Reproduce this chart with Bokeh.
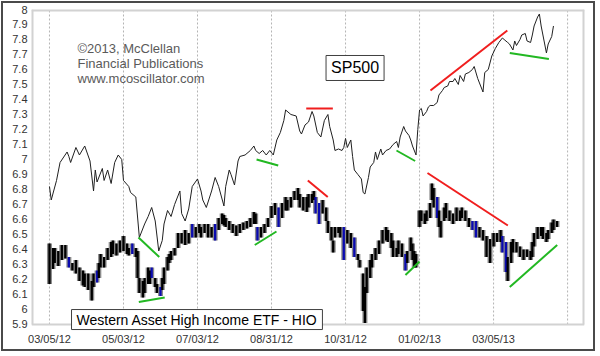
from bokeh.plotting import figure
from bokeh.models import FixedTicker, Label, ColumnDataSource, Range1d
from bokeh.embed import file_html
from bokeh.resources import INLINE

# x axis: trading-day index counted from 03/05/12
date_ticks = [0, 42, 84, 126, 168, 210, 252, 294]
date_labels = ["03/05/12", "05/03/12", "07/03/12", "08/31/12",
               "10/31/12", "01/02/13", "03/05/13", ""]
y_ticks = [5.9, 6.0, 6.1, 6.2, 6.3, 6.4, 6.5, 6.6, 6.7, 6.8, 6.9,
           7.0, 7.1, 7.2, 7.3, 7.4, 7.5, 7.6, 7.7, 7.8, 7.9, 8.0]
y_labels = ["5.9", "6", "6.1", "6.2", "6.3", "6.4", "6.5", "6.6", "6.7", "6.8", "6.9",
            "7", "7.1", "7.2", "7.3", "7.4", "7.5", "7.6", "7.7", "7.8", "7.9", "8"]

# SP500 overlay (drawn on the chart's own scale)
sp_day = [0, 1, 4, 6, 10, 11, 12, 15, 17, 18,
          20, 23, 25, 26, 27, 30, 31, 33, 35, 37,
          39, 41, 42, 45, 46, 49, 51, 54, 56, 58,
          60, 62, 64, 65, 67, 69, 71, 74, 75, 77,
          79, 81, 84, 86, 87, 89, 92, 94, 96, 99,
          100, 102, 103, 105, 107, 108, 111, 114, 116, 117,
          119, 121, 123, 125, 127, 129, 131, 133, 134, 137,
          140, 142, 143, 145, 147, 149, 150, 152, 154, 156,
          158, 159, 161, 162, 164, 166, 167, 168, 169, 171,
          172, 173, 175, 177, 178, 179, 181, 182, 184, 185,
          186, 188, 189, 191, 193, 195, 197, 198, 199, 201,
          202, 204, 205, 206, 208, 209, 210, 211, 212, 214,
          215, 216, 218, 220, 221, 223, 224, 226, 227, 229,
          230, 232, 233, 235, 236, 238, 240, 241, 243, 244,
          246, 247, 249, 251, 253, 255, 257, 258, 260, 261,
          263, 264, 265, 267, 268, 270, 271, 273, 274, 275,
          277, 278, 279, 281, 282, 283, 285, 286]
sp_val = [6.82, 6.73, 6.86, 6.98, 7.05, 7.02, 6.98, 7.08, 7.03, 7.05,
          7.09, 6.99, 6.79, 6.93, 6.85, 6.94, 6.86, 6.93, 6.84, 6.98,
          7.03, 7.00, 6.86, 6.82, 6.78, 6.75, 6.48, 6.57, 6.62, 6.68,
          6.59, 6.39, 6.46, 6.57, 6.66, 6.62, 6.70, 6.79, 6.64, 6.59,
          6.67, 6.82, 6.87, 6.79, 6.73, 6.68, 6.79, 6.88, 6.82, 6.69,
          6.82, 6.93, 6.90, 6.83, 6.99, 7.02, 7.03, 7.06, 7.09, 7.06,
          7.04, 7.06, 7.03, 7.06, 7.03, 7.13, 7.18, 7.26, 7.33, 7.30,
          7.29, 7.19, 7.17, 7.23, 7.25, 7.32, 7.29, 7.18, 7.15, 7.26,
          7.30, 7.22, 7.13, 7.06, 7.07, 7.06, 7.08, 7.14, 7.08, 7.13,
          7.02, 6.93, 6.90, 6.87, 6.78, 6.77, 6.88, 6.95, 6.98, 7.05,
          7.00, 7.07, 7.03, 7.06, 7.07, 7.10, 7.12, 7.08, 7.15, 7.22,
          7.19, 7.16, 7.13, 7.09, 7.03, 7.20, 7.33, 7.34, 7.29, 7.32,
          7.35, 7.36, 7.36, 7.38, 7.43, 7.46, 7.48, 7.49, 7.52, 7.52,
          7.54, 7.50, 7.56, 7.52, 7.57, 7.58, 7.60, 7.62, 7.54, 7.51,
          7.45, 7.58, 7.60, 7.69, 7.74, 7.78, 7.81, 7.80, 7.78, 7.77,
          7.73, 7.79, 7.76, 7.80, 7.83, 7.84, 7.79, 7.78, 7.83, 7.89,
          7.95, 7.97, 7.89, 7.77, 7.71, 7.77, 7.82, 7.89]

# HIO daily bars (high / low)
hio_day = [0, 2, 3, 5, 7, 9, 11, 13, 15, 17,
           19, 20, 22, 24, 25, 27, 28, 29, 31, 33,
           35, 36, 38, 40, 42, 44, 45, 47, 49, 50,
           51, 53, 54, 56, 57, 58, 60, 61, 63, 64,
           65, 67, 68, 69, 71, 73, 75, 77, 79, 81,
           83, 85, 86, 88, 90, 92, 94, 96, 98, 99,
           100, 102, 104, 106, 108, 110, 112, 114, 116, 117,
           118, 120, 122, 124, 126, 128, 130, 132, 134, 135,
           137, 139, 141, 142, 144, 146, 147, 149, 150, 151,
           153, 155, 157, 158, 160, 161, 162, 164, 165, 167,
           169, 171, 173, 175, 176, 178, 179, 180, 182, 183,
           185, 187, 189, 191, 192, 194, 195, 197, 198, 200,
           202, 203, 205, 206, 207, 208, 210, 211, 213, 214,
           216, 217, 218, 220, 221, 222, 224, 225, 227, 229,
           231, 233, 234, 236, 238, 240, 242, 244, 246, 248,
           250, 252, 254, 256, 257, 259, 260, 262, 263, 265,
           267, 269, 271, 273, 274, 275, 277, 279, 280, 282,
           283, 285, 286, 288]
hio_high = [6.44, 6.41, 6.41, 6.39, 6.43, 6.43, 6.35, 6.31, 6.33, 6.28,
            6.26, 6.24, 6.24, 6.19, 6.24, 6.26, 6.31, 6.37, 6.35, 6.41,
            6.45, 6.46, 6.44, 6.46, 6.49, 6.44, 6.41, 6.44, 6.41, 6.39,
            6.21, 6.19, 6.21, 6.28, 6.26, 6.28, 6.21, 6.17, 6.15, 6.21,
            6.28, 6.35, 6.37, 6.39, 6.41, 6.51, 6.51, 6.53, 6.51, 6.57,
            6.55, 6.57, 6.55, 6.57, 6.57, 6.55, 6.57, 6.61, 6.64, 6.63,
            6.61, 6.59, 6.57, 6.56, 6.57, 6.58, 6.59, 6.61, 6.65, 6.64,
            6.55, 6.55, 6.57, 6.61, 6.69, 6.71, 6.68, 6.71, 6.75, 6.73,
            6.75, 6.79, 6.81, 6.77, 6.75, 6.75, 6.77, 6.77, 6.79, 6.75,
            6.71, 6.73, 6.68, 6.59, 6.55, 6.46, 6.55, 6.55, 6.55, 6.55,
            6.53, 6.51, 6.48, 6.37, 6.33, 6.24, 6.15, 6.28, 6.33, 6.37,
            6.41, 6.46, 6.53, 6.55, 6.53, 6.51, 6.46, 6.41, 6.46, 6.44,
            6.37, 6.39, 6.48, 6.44, 6.39, 6.37, 6.66, 6.66, 6.64, 6.66,
            6.71, 6.84, 6.81, 6.75, 6.66, 6.59, 6.68, 6.71, 6.66, 6.64,
            6.68, 6.66, 6.68, 6.66, 6.61, 6.59, 6.59, 6.55, 6.53, 6.49,
            6.47, 6.51, 6.51, 6.53, 6.49, 6.45, 6.35, 6.45, 6.47, 6.45,
            6.42, 6.40, 6.40, 6.39, 6.45, 6.51, 6.55, 6.55, 6.55, 6.51,
            6.53, 6.58, 6.60, 6.59]
hio_low = [6.17, 6.27, 6.31, 6.29, 6.33, 6.34, 6.28, 6.26, 6.24, 6.19,
           6.16, 6.15, 6.13, 6.06, 6.15, 6.18, 6.21, 6.28, 6.28, 6.33,
           6.35, 6.37, 6.36, 6.38, 6.39, 6.37, 6.36, 6.37, 6.35, 6.21,
           6.11, 6.08, 6.11, 6.17, 6.17, 6.21, 6.15, 6.11, 6.09, 6.13,
           6.17, 6.26, 6.31, 6.33, 6.36, 6.41, 6.44, 6.43, 6.44, 6.48,
           6.48, 6.51, 6.48, 6.51, 6.48, 6.48, 6.46, 6.53, 6.57, 6.56,
           6.55, 6.53, 6.51, 6.49, 6.51, 6.53, 6.54, 6.55, 6.57, 6.57,
           6.46, 6.48, 6.51, 6.55, 6.61, 6.63, 6.55, 6.61, 6.66, 6.66,
           6.68, 6.73, 6.73, 6.68, 6.66, 6.65, 6.68, 6.71, 6.73, 6.64,
           6.57, 6.64, 6.59, 6.51, 6.46, 6.38, 6.48, 6.51, 6.48, 6.33,
           6.44, 6.41, 6.35, 6.33, 6.28, 5.99, 5.91, 6.11, 6.21, 6.28,
           6.33, 6.37, 6.44, 6.46, 6.45, 6.41, 6.35, 6.35, 6.37, 6.35,
           6.26, 6.31, 6.39, 6.33, 6.28, 6.28, 6.55, 6.59, 6.57, 6.59,
           6.61, 6.73, 6.68, 6.61, 6.55, 6.48, 6.59, 6.61, 6.59, 6.57,
           6.59, 6.59, 6.61, 6.59, 6.55, 6.53, 6.48, 6.48, 6.46, 6.35,
           6.31, 6.42, 6.45, 6.45, 6.38, 6.25, 6.19, 6.31, 6.38, 6.38,
           6.35, 6.33, 6.35, 6.33, 6.35, 6.42, 6.47, 6.49, 6.47, 6.45,
           6.47, 6.51, 6.53, 6.55]
hio_blue_days = [11, 27, 47, 58, 63, 81, 94, 118, 130, 151, 153, 167, 173,
                 202, 220, 240, 242, 257, 259]

# hand-drawn trend lines (start / end in day, value)
trend_x0 = [50.5, 50.7, 117.5, 116.5, 145.7, 146.6, 196.9, 202.0, 216.2, 214.5, 261.2, 261.2]
trend_y0 = [6.48, 6.05, 7.00, 6.43, 7.34, 6.86, 7.06, 6.23, 7.46, 6.91, 7.71, 6.15]
trend_x1 = [62.3, 65.4, 129.8, 128.8, 160.8, 157.9, 207.5, 210.0, 259.8, 260.1, 283.4, 288.1]
trend_y1 = [6.35, 6.08, 6.96, 6.52, 7.34, 6.75, 6.99, 6.32, 7.86, 6.56, 7.67, 6.43]
trend_kind = ["g", "g", "g", "g", "r", "r", "g", "g", "r", "r", "g", "g"]

assert len(sp_day) == len(sp_val)
assert len(hio_day) == len(hio_high) == len(hio_low)

FONT = "Liberation Sans"
X_LO, X_HI = -10.2, 303.6          # visible day range
Y_LO, Y_HI = 5.9, 8.0              # plotted price box
Y_PAD = 0.0467                     # room below the box for the title tag

p = figure(width=594, height=350, output_backend="svg", toolbar_location=None,
           x_range=Range1d(X_LO, X_HI), y_range=Range1d(Y_LO - Y_PAD, Y_HI),
           min_border_left=28, min_border_right=13, min_border_top=6,
           min_border_bottom=22)
p.styles = {"border": "2px solid #4a4a4a", "margin": "1px"}
p.background_fill_color = "white"
p.border_fill_color = "white"
p.outline_line_color = None
p.xgrid.visible = False
p.ygrid.visible = False

# dotted vertical date grid, limited to the price box
p.segment(x0=date_ticks, y0=[Y_LO] * len(date_ticks), x1=date_ticks,
          y1=[Y_HI] * len(date_ticks), line_color="#b4b4b4",
          line_width=1, line_dash="2 2")

p.xaxis.ticker = FixedTicker(ticks=date_ticks)
p.xaxis.major_label_overrides = dict(zip(date_ticks, date_labels))
p.yaxis.ticker = FixedTicker(ticks=y_ticks)
p.yaxis.major_label_overrides = dict(zip(y_ticks, y_labels))
for ax in (p.xaxis[0], p.yaxis[0]):
    ax.axis_line_color = None
    ax.major_tick_line_color = None
    ax.minor_tick_line_color = None
    ax.major_tick_out = 0
    ax.major_tick_in = 0
    ax.minor_tick_out = 0
    ax.major_label_text_font = FONT
    ax.major_label_text_font_size = "11px"
    ax.major_label_text_color = "#333333"
p.xaxis.major_label_standoff = 1
p.yaxis.major_label_standoff = 4

# SP500 line
p.line(sp_day, sp_val, line_color="#202020", line_width=1)

# HIO bars
colors = ["#0a0ab0" if d in hio_blue_days else "#000000" for d in hio_day]
src = ColumnDataSource(dict(x=hio_day, hi=hio_high, lo=hio_low, c=colors))
p.segment(x0="x", y0="lo", x1="x", y1="hi", source=src,
          line_color="#8c8c8c", line_width=5)
p.segment(x0="x", y0="lo", x1="x", y1="hi", source=src,
          line_color="c", line_width=2.3)

# trend lines
tcol = ["#22b822" if k == "g" else "#f01e1e" for k in trend_kind]
p.segment(x0=trend_x0, y0=trend_y0, x1=trend_x1, y1=trend_y1,
          line_color=tcol, line_width=2)

# light grey box round the price area
p.segment(x0=[X_LO, X_LO, X_HI], y0=[Y_LO, Y_HI, Y_LO],
          x1=[X_LO, X_HI, X_HI], y1=[Y_HI, Y_HI, Y_HI],
          line_color="#d2d2d2", line_width=4)
p.segment(x0=[X_LO], y0=[Y_LO], x1=[X_HI], y1=[Y_LO],
          line_color="#d2d2d2", line_width=2)

# texts
for txt, yv in (("\u00a92013, McClellan", 7.74),
                ("Financial Publications", 7.64),
                ("www.mcoscillator.com", 7.54)):
    p.add_layout(Label(x=15.9, y=yv, text=txt, text_font=FONT,
                       text_font_size="13px", text_color="#5a5a5a",
                       text_align="left", text_baseline="middle"))

p.add_layout(Label(x=173.4, y=7.61, text="SP500", text_font=FONT,
                   text_font_size="16px", text_color="#000000",
                   text_align="center", text_baseline="middle",
                   background_fill_color="white",
                   border_line_color="#404040", border_line_width=1,
                   padding=dict(left=5, right=5, top=4, bottom=4)))

p.add_layout(Label(x=83.7, y=5.933, text="Western Asset High Income ETF - HIO",
                   text_font=FONT, text_font_size="14px", text_color="#000000",
                   text_align="center", text_baseline="middle",
                   background_fill_color="white",
                   border_line_color="#404040", border_line_width=1,
                   padding=dict(left=5, right=5, top=2, bottom=2)))

open("out.html", "w").write(file_html(p, INLINE))
